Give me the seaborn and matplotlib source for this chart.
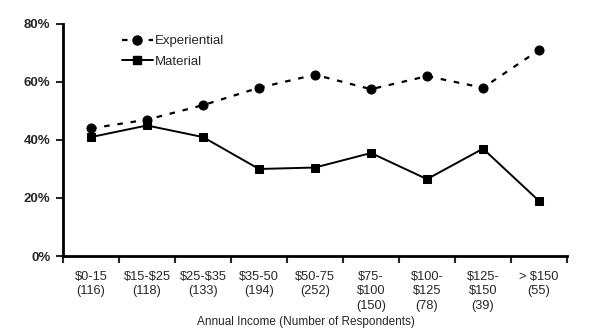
import matplotlib
matplotlib.use("Agg")
import matplotlib.pyplot as plt
import seaborn as sns
import pandas as pd
from matplotlib.ticker import FixedLocator, FuncFormatter
from matplotlib.lines import Line2D

categories = ["$0-15\n(116)", "$15-$25\n(118)", "$25-$35\n(133)", "$35-50\n(194)",
              "$50-75\n(252)", "$75-\n$100\n(150)", "$100-\n$125\n(78)",
              "$125-\n$150\n(39)", "> $150\n(55)"]
experiential = [44, 47, 52, 58, 62.5, 57.5, 62, 58, 71]
material = [41, 45, 41, 30, 30.5, 35.5, 26.5, 37, 19]
y_ticks = [0, 20, 40, 60, 80]

sns.set_style("white")
plt.rcParams['font.family'] = ['Liberation Sans', 'DejaVu Sans']
plt.rcParams['text.parse_math'] = False

df = pd.DataFrame({
    "x": list(range(len(categories))) * 2,
    "value": experiential + material,
    "series": ["Experiential"] * len(categories) + ["Material"] * len(categories),
})

fig = plt.figure(figsize=(6, 3.28), dpi=100)
ax = fig.add_axes([0.105, 0.2195, 0.84, 0.7075])

dash = (0, (2.5, 3.5))
sns.lineplot(data=df[df.series == "Experiential"], x="x", y="value", ax=ax,
             color="black", linestyle=dash, linewidth=1.6,
             marker="o", markersize=6.5, markeredgecolor="black", legend=False)
sns.lineplot(data=df[df.series == "Material"], x="x", y="value", ax=ax,
             color="black", linestyle="-", linewidth=1.4,
             marker="s", markersize=6, markeredgecolor="black", legend=False)

ax.set_xlim(-0.5, len(categories) - 0.5)
ax.set_ylim(0, 80)
ax.set_xlabel("")
ax.set_ylabel("")

ax.xaxis.set_major_locator(FixedLocator([i - 0.5 for i in range(len(categories) + 1)]))
ax.xaxis.set_major_formatter(FuncFormatter(lambda v, p: ""))
ax.xaxis.set_minor_locator(FixedLocator(list(range(len(categories)))))
ax.set_xticklabels(categories, minor=True, linespacing=1.32)
ax.tick_params(axis="x", which="major", direction="out", length=5, width=1.5, bottom=True)
ax.tick_params(axis="x", which="minor", length=0, pad=10.5, labelsize=9.2)

ax.set_yticks(y_ticks)
ax.set_yticklabels([f"{v}%" for v in y_ticks], fontweight="bold", fontsize=9.5)
ax.tick_params(axis="y", direction="out", length=5, width=1.5, left=True, pad=4)

for s in ["top", "right"]:
    ax.spines[s].set_visible(False)
for s in ["left", "bottom"]:
    ax.spines[s].set_linewidth(2)
    ax.spines[s].set_color("black")

handles = [
    Line2D([], [], color="black", linestyle=dash, linewidth=1.6, marker="o", markersize=6.5),
    Line2D([], [], color="black", linestyle="-", linewidth=1.4, marker="s", markersize=6),
]
ax.legend(handles, ["Experiential", "Material"], loc="upper left",
          bbox_to_anchor=(0.094, 1.003), frameon=False, fontsize=9.5,
          handlelength=2.3, handletextpad=0.2, labelspacing=0.62)

fig.text(0.51, 0.0, "Annual Income (Number of Respondents)", ha="center", va="bottom", fontsize=8.5)

fig.savefig("out.png", dpi=100)
